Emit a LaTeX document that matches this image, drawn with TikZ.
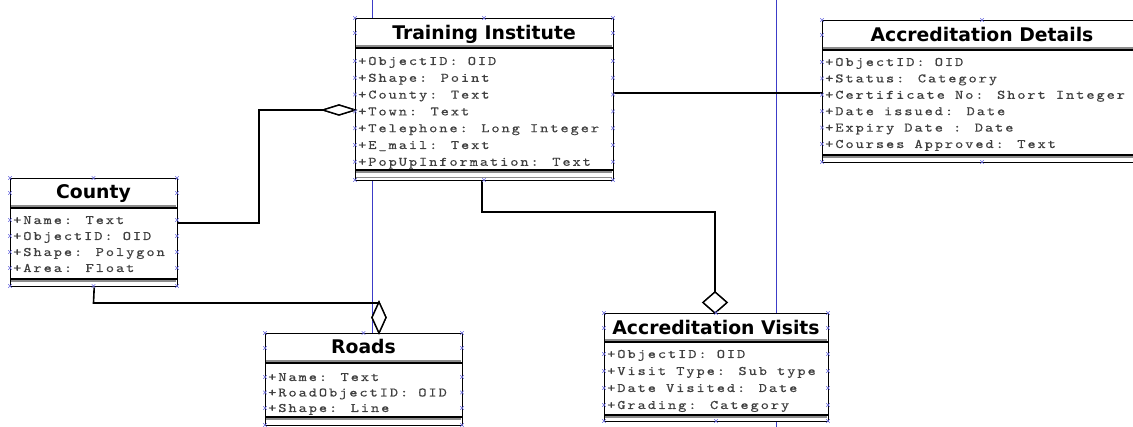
\documentclass[tikz,border=0pt]{standalone}
\usepackage{fontspec}
\usetikzlibrary{shapes.geometric}
\newfontfamily\ttlfont{DejaVu Sans}
\newfontfamily\attrfont{lmmono10-regular}[Extension=.otf, FakeStretch=1.2, LetterSpace=15, FakeBold=0.4]
\definecolor{handleblue}{RGB}{110,110,225}
\definecolor{guideblue}{RGB}{60,60,200}
\tikzset{
  classbox/.style={draw=black, line width=1.4pt, fill=white, anchor=north west, inner sep=0pt},
  ctitle/.style={font=\ttlfont\bfseries\fontsize{18.8}{20}\selectfont, inner sep=0pt, anchor=base},
  attr/.style={font=\attrfont\fontsize{13}{14}\selectfont, text=black!75, anchor=base west, inner sep=0pt},
  sepline/.style={draw=black, line width=1.1pt},
  sepshade/.style={draw=black!45, line width=1.2pt},
  conn/.style={draw=black, line width=1.6pt},
  agg/.style={diamond, draw=black, line width=1.4pt, fill=white, inner sep=0pt, outer sep=0pt},
  guide/.style={draw=guideblue, line width=0.7pt},
  handle/.style={draw=handleblue, line width=0.5pt},
  hx/.pic={\draw[handle] (-1.8,-1.8) -- (1.8,1.8) (-1.8,1.8) -- (1.8,-1.8);}
}
\begin{document}
\begin{tikzpicture}[x=1pt,y=-1pt]
\useasboundingbox (0,0) rectangle (1133,427);
\clip (0,0) rectangle (1133,427);
\fill[white] (0,0) rectangle (1133,427);

% guide lines
\draw[guide] (372,0) -- (372,333);
\draw[guide] (776,0) -- (776,427);

% ---------- Training Institute ----------
\node[classbox, minimum width=258pt, minimum height=162pt] (ti) at (355,18) {};
\node[ctitle] (ti-t) at (484,40) {Training Institute};
\draw[sepline] (355,48) -- (613,48);
\draw[sepshade] (356,46) -- (612,46);
\foreach \t [count=\i from 0] in {+ObjectID: OID,+Shape: Point,+County: Text,+Town: Text,+Telephone: Long Integer,+E\_mail: Text,+PopUpInformation: Text}
  \node[attr] (ti-a\i) at (358,{65+16.8*\i}) {\t};
\draw[sepline] (355,170) -- (613,170);
\draw[sepshade] (356,172) -- (612,172);
\draw[sepshade] (356,177.5) -- (612,177.5);

% ---------- Accreditation Details ----------
\node[classbox, minimum width=320pt, minimum height=142pt] (ad) at (822,20) {};
\node[ctitle] (ad-t) at (982,42) {Accreditation Details};
\draw[sepline] (822,50) -- (1142,50);
\draw[sepshade] (823,48) -- (1141,48);
\foreach \t [count=\i from 0] in {+ObjectID: OID,+Status: Category,+Certificate No: Short Integer,+Date issued: Date,+Expiry Date : Date,+Courses Approved: Text}
  \node[attr] (ad-a\i) at (825,{66+16.4*\i}) {\t};
\draw[sepline] (822,155) -- (1142,155);
\draw[sepshade] (823,157) -- (1141,157);

% ---------- County ----------
\node[classbox, minimum width=167pt, minimum height=108pt] (county) at (10,178) {};
\node[ctitle] (county-t) at (93.5,199) {County};
\draw[sepline] (10,208) -- (177,208);
\draw[sepshade] (11,206) -- (176,206);
\foreach \t [count=\i from 0] in {+Name: Text,+ObjectID: OID,+Shape: Polygon,+Area: Float}
  \node[attr] (county-a\i) at (13,{224+16*\i}) {\t};
\draw[sepline] (10,279) -- (177,279);
\draw[sepshade] (11,281) -- (176,281);

% ---------- Roads ----------
\node[classbox, minimum width=197pt, minimum height=92pt] (roads) at (265,333) {};
\node[ctitle] (roads-t) at (363.5,354) {Roads};
\draw[sepline] (265,363) -- (462,363);
\draw[sepshade] (266,361) -- (461,361);
\foreach \t [count=\i from 0] in {+Name: Text,+RoadObjectID: OID,+Shape: Line}
  \node[attr] (roads-a\i) at (268,{381+15.5*\i}) {\t};
\draw[sepline] (265,417) -- (462,417);
\draw[sepshade] (266,419) -- (461,419);

% ---------- Accreditation Visits ----------
\node[classbox, minimum width=224pt, minimum height=108pt] (av) at (604,313) {};
\node[ctitle] (av-t) at (716,335) {Accreditation Visits};
\draw[sepline] (604,342) -- (828,342);
\draw[sepshade] (605,340) -- (827,340);
\foreach \t [count=\i from 0] in {+ObjectID: OID,+Visit Type: Sub type,+Date Visited: Date,+Grading: Category}
  \node[attr] (av-a\i) at (607,{358+17*\i}) {\t};
\draw[sepline] (604,415) -- (828,415);
\draw[sepshade] (605,417) -- (827,417);

% ---------- aggregation diamonds ----------
\node[agg, minimum width=32pt, minimum height=10pt, anchor=east] (d1) at (ti.west |- 0,110) {};
\node[agg, minimum width=14pt, minimum height=31pt, anchor=south] (d2) at (379,333) {};
\node[agg, minimum width=24pt, minimum height=21pt, anchor=south] (d3) at (715,313) {};

% ---------- connectors ----------
\draw[conn] (county.east |- 0,223) -- (259,223) |- (d1.west);
\draw[conn] (county.south) -- (93.5,303) -| (d2.north);
\draw[conn] (ti.south -| 482,0) -- (482,212) -| (d3.north);
\draw[conn] (ti.east |- 0,93) -- (ad.west |- 0,93);
\node[agg, minimum width=32pt, minimum height=10pt, anchor=east] at (d1.east) {};
\node[agg, minimum width=14pt, minimum height=31pt, anchor=south] at (d2.south) {};
\node[agg, minimum width=24pt, minimum height=21pt, anchor=south] at (d3.south) {};

% ---------- selection handles ----------
\foreach \y in {18,33,61,77.8,94.6,111.4,128.2,145,161.8,180} {\pic at (355,\y) {hx}; \pic at (613,\y) {hx};}
\pic at (484,18) {hx}; \pic at (484,180) {hx};
\foreach \y in {20,35,62,78.4,94.8,111.2,127.6,144,162} {\pic at (822,\y) {hx};}
\pic at (982,20) {hx}; \pic at (982,162) {hx};
\foreach \y in {178,193,220,236,252,268,286} {\pic at (10,\y) {hx}; \pic at (177,\y) {hx};}
\pic at (93.5,178) {hx}; \pic at (93.5,286) {hx};
\foreach \y in {333,348,377,392.5,408,425} {\pic at (265,\y) {hx}; \pic at (462,\y) {hx};}
\pic at (363.5,333) {hx};
\foreach \y in {313,328,354,371,388,405,421} {\pic at (604,\y) {hx}; \pic at (828,\y) {hx};}
\pic at (716,313) {hx}; \pic at (716,421) {hx};
\end{tikzpicture}
\end{document}
